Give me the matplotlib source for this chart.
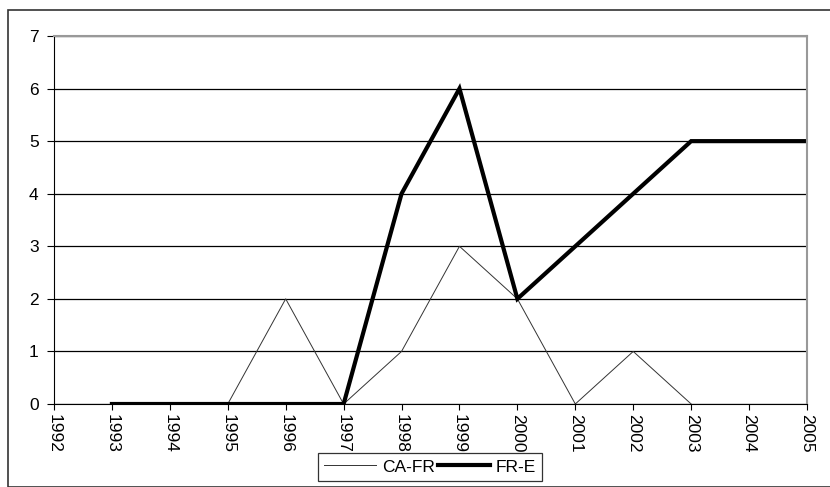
import numpy as np
import matplotlib.pyplot as plt
from matplotlib.patches import Rectangle

years = list(range(1992, 2006))
ca_years = [1993, 1994, 1995, 1996, 1997, 1998, 1999, 2000, 2001, 2002, 2003]
ca_fr = [0, 0, 0, 2, 0, 1, 3, 2, 0, 1, 0]
fr_years = [1993, 1994, 1995, 1996, 1997, 1998, 1999, 2000, 2001, 2002, 2003, 2004, 2005]
fr_e = [0, 0, 0, 0, 0, 4, 6, 2, 3, 4, 5, 5, 5]

plt.rcParams['font.family'] = ['Liberation Sans', 'DejaVu Sans']
fs = 12.5

W, H = 830, 487
fig = plt.figure(figsize=(W / 100, H / 100), dpi=100)
# outer chart border (cropped at right/bottom like the original)
fig.patches.append(Rectangle((8 / W, 0), 1.2, 1 - 10 / H, transform=fig.transFigure,
                             fill=False, edgecolor='#333333', linewidth=1.2))

ax = fig.add_axes([54 / W, 1 - 404 / H, (807 - 54) / W, (404 - 36) / H])
ax.plot(ca_years, ca_fr, color='#333333', linewidth=0.7, label='CA-FR')
ax.plot(fr_years, fr_e, color='black', linewidth=3, label='FR-E', solid_joinstyle='miter')

ax.set_xlim(1992, 2005)
ax.set_ylim(0, 7)
ax.set_yticks(range(0, 8))
ax.set_xticks(years)
ax.set_xticklabels([str(y) for y in years], rotation=-90, fontsize=fs)
ax.tick_params(axis='y', labelsize=fs, length=5, direction='out', pad=6)
ax.tick_params(axis='x', length=4, direction='out', pad=3)
ax.grid(axis='y', color='black', linewidth=0.9)
ax.set_axisbelow(True)
for s in ['top', 'right']:
    ax.spines[s].set_color('#999999')
    ax.spines[s].set_linewidth(1.5)
ax.spines['left'].set_color('black')
ax.spines['bottom'].set_color('black')

leg = fig.legend(loc='center', bbox_to_anchor=(430 / W, 1 - 467 / H), ncol=2,
                 fontsize=fs, frameon=True, fancybox=False, edgecolor='black',
                 handlelength=3.0, columnspacing=0.2, handletextpad=0.3,
                 borderpad=0.35, borderaxespad=0)
leg.get_frame().set_linewidth(0.9)

fig.savefig('out.png', dpi=100)
